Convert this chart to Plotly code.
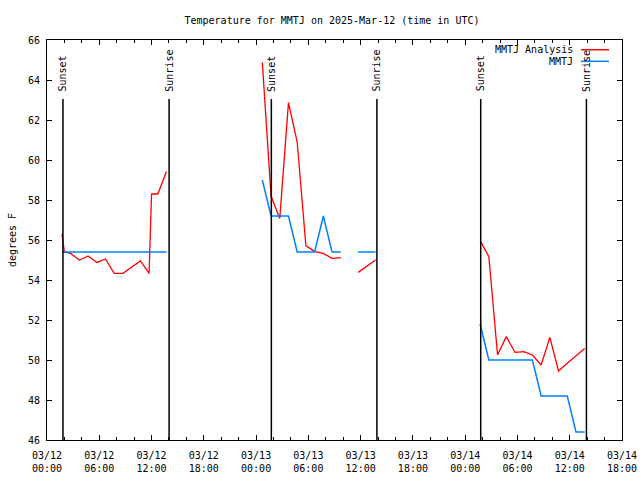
import plotly.graph_objects as go

# ---- data ----
analysis_times = [
    "2025-03-12 01:43", "2025-03-12 02:00", "2025-03-12 02:43", "2025-03-12 03:43",
    "2025-03-12 04:43", "2025-03-12 05:43", "2025-03-12 06:43", "2025-03-12 07:43",
    "2025-03-12 08:43", "2025-03-12 09:43", "2025-03-12 10:43", "2025-03-12 11:43",
    "2025-03-12 12:00", "2025-03-12 12:43", "2025-03-12 13:43", "2025-03-12 14:43",
    "2025-03-13 00:43", "2025-03-13 01:43", "2025-03-13 02:43", "2025-03-13 03:43",
    "2025-03-13 04:43", "2025-03-13 05:43", "2025-03-13 06:43", "2025-03-13 07:43",
    "2025-03-13 08:43", "2025-03-13 09:43", "2025-03-13 10:43", "2025-03-13 11:43",
    "2025-03-13 12:43", "2025-03-13 13:43", "2025-03-13 14:43",
    "2025-03-14 01:43", "2025-03-14 02:43", "2025-03-14 03:43", "2025-03-14 04:43",
    "2025-03-14 05:43", "2025-03-14 06:43", "2025-03-14 07:43", "2025-03-14 08:43",
    "2025-03-14 09:43", "2025-03-14 10:43", "2025-03-14 11:43", "2025-03-14 12:43",
    "2025-03-14 13:43",
]
analysis_temps = [
    56.3, 55.4, 55.33, 55.0, 55.2, 54.88, 55.05, 54.33,
    54.33, 54.64, 54.95, 54.33, 58.3, 58.3, 59.42, None,
    64.88, 58.2, 57.08, 62.87, 60.9, 55.72, 55.42, 55.33,
    55.08, 55.12, None, 54.38, 54.7, 55.0, None,
    55.97, 55.17, 50.25, 51.17, 50.38, 50.42, 50.25, 49.75,
    51.13, 49.45, 49.84, 50.2, 50.58,
]

metar_times = [
    "2025-03-12 01:43", "2025-03-12 02:43", "2025-03-12 03:43", "2025-03-12 04:43",
    "2025-03-12 05:43", "2025-03-12 06:43", "2025-03-12 07:43", "2025-03-12 08:43",
    "2025-03-12 09:43", "2025-03-12 10:43", "2025-03-12 11:43", "2025-03-12 12:43",
    "2025-03-12 13:43", "2025-03-12 14:43",
    "2025-03-13 00:43", "2025-03-13 01:43", "2025-03-13 02:43", "2025-03-13 03:43",
    "2025-03-13 04:43", "2025-03-13 05:43", "2025-03-13 06:43", "2025-03-13 07:43",
    "2025-03-13 08:43", "2025-03-13 09:43", "2025-03-13 10:43", "2025-03-13 11:43",
    "2025-03-13 12:43", "2025-03-13 13:43", "2025-03-13 14:43",
    "2025-03-14 01:43", "2025-03-14 02:43", "2025-03-14 03:43", "2025-03-14 04:43",
    "2025-03-14 05:43", "2025-03-14 06:43", "2025-03-14 07:43", "2025-03-14 08:43",
    "2025-03-14 09:43", "2025-03-14 10:43", "2025-03-14 11:43", "2025-03-14 12:43",
    "2025-03-14 13:43",
]
metar_temps = [
    55.4, 55.4, 55.4, 55.4, 55.4, 55.4, 55.4, 55.4,
    55.4, 55.4, 55.4, 55.4, 55.4, None,
    59.0, 57.2, 57.2, 57.2, 55.4, 55.4, 55.4, 57.2,
    55.4, 55.4, None, 55.4, 55.4, 55.4, None,
    51.8, 50.0, 50.0, 50.0, 50.0, 50.0, 50.0, 48.2,
    48.2, 48.2, 48.2, 46.4, 46.4,
]

sunset_times = ["2025-03-12 01:50", "2025-03-13 01:45", "2025-03-14 01:47"]
sunrise_times = ["2025-03-12 14:01", "2025-03-13 13:52", "2025-03-14 13:55"]

series_names = ["MMTJ Analysis", "MMTJ"]
series_colors = ["#ff0000", "#0080ff"]
title_text = "Temperature for MMTJ on 2025-Mar-12 (time in UTC)"
y_title = "degrees F"
x_range = ["2025-03-12 00:00", "2025-03-14 18:00"]
y_range = [46, 66]

MONO = "DejaVu Sans Mono, Liberation Mono, monospace"

fig = go.Figure()
fig.add_trace(go.Scatter(x=analysis_times, y=analysis_temps, mode="lines",
                         name=series_names[0], connectgaps=False,
                         line=dict(color=series_colors[0], width=1.3)))
fig.add_trace(go.Scatter(x=metar_times, y=metar_temps, mode="lines",
                         name=series_names[1], connectgaps=False,
                         line=dict(color=series_colors[1], width=1.5)))

shapes = []
annotations = []
for label, times in (("Sunset", sunset_times), ("Sunrise", sunrise_times)):
    for t in times:
        shapes.append(dict(type="line", xref="x", yref="paper", x0=t, x1=t,
                           y0=0, y1=0.8525, line=dict(color="black", width=1.5)))
        annotations.append(dict(x=t, y=0.866, xref="x", yref="paper", text=label,
                                textangle=-90, showarrow=False, xanchor="center",
                                yanchor="bottom", font=dict(family=MONO, size=10, color="black")))

# legend drawn gnuplot-style (text right, sample line after it)
leg_y = [0.9757, 0.9467]
for name, color, yy in zip(series_names, series_colors, leg_y):
    annotations.append(dict(x=0.9183, y=yy, xref="paper", yref="paper", text=name,
                            showarrow=False, xanchor="right", yanchor="middle",
                            font=dict(family=MONO, size=10, color="black")))
    shapes.append(dict(type="line", xref="paper", yref="paper", x0=0.9287, x1=0.9774,
                       y0=yy, y1=yy, line=dict(color=color, width=1.5)))

fig.update_layout(
    width=640, height=480, autosize=False,
    paper_bgcolor="white", plot_bgcolor="white",
    margin=dict(l=47, r=18, t=40, b=40),
    showlegend=False,
    title=dict(text=title_text, x=332 / 640, xanchor="center", y=1 - 20 / 480,
               yanchor="middle", font=dict(family=MONO, size=10, color="black")),
    font=dict(family=MONO, size=10, color="black"),
    shapes=shapes, annotations=annotations,
)
fig.update_xaxes(
    type="date", range=x_range, tick0="2025-03-12 00:00", dtick=6 * 3600 * 1000,
    tickformat="%m/%d<br>%H:%M", ticks="inside", ticklen=5, tickcolor="black",
    showline=True, linecolor="black", linewidth=1, mirror="ticks",
    showgrid=False, zeroline=False, automargin=False, ticklabelstandoff=6,
    minor=dict(dtick=2 * 3600 * 1000, ticks="inside", ticklen=3, tickcolor="black", showgrid=False),
    tickfont=dict(family=MONO, size=10, color="black"),
)
fig.update_yaxes(
    range=y_range, dtick=2, tick0=46, ticks="inside", ticklen=5, tickcolor="black",
    showline=True, linecolor="black", linewidth=1, mirror="ticks",
    showgrid=False, zeroline=False, automargin=False, ticklabelstandoff=4,
    title=dict(text=y_title, font=dict(family=MONO, size=10, color="black"), standoff=9),
    tickfont=dict(family=MONO, size=10, color="black"),
)

fig.write_html("out.html", config={"displayModeBar": False},
               post_script="document.body.style.margin='0';document.body.style.overflow='hidden';")
